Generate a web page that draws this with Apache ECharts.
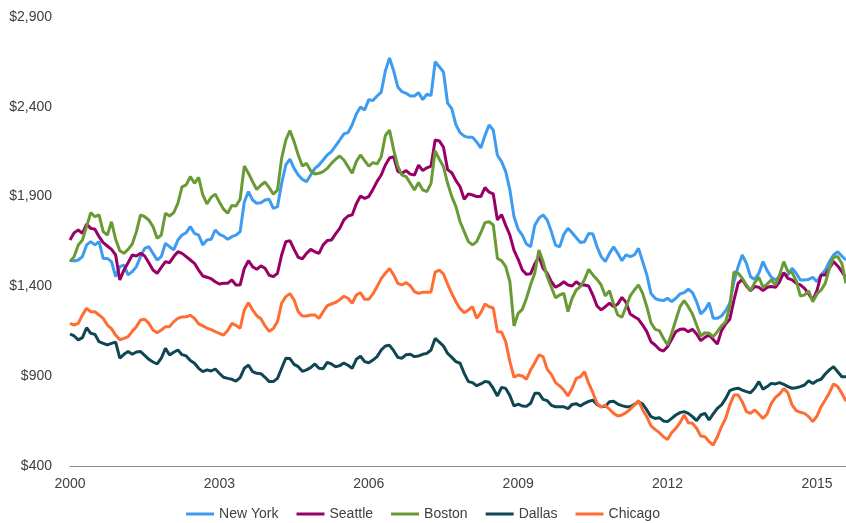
<!DOCTYPE html>
<html>
<head>
<meta charset="utf-8">
<script src="https://cdn.jsdelivr.net/npm/echarts@6/dist/echarts.min.js"></script>
<style>
html,body{margin:0;padding:0;background:#fff;}
#chart{width:846px;height:523px;}
</style>
</head>
<body>
<div id="chart"></div>
<script>
// Monthly categories Jan 2000 .. Aug 2015 (188 months)
const startYear = 2000;
const monthCount = 188;
const months = [];
for (let i = 0; i < monthCount; i++) {
  const y = startYear + Math.floor(i / 12);
  const m = (i % 12) + 1;
  months.push(y + '-' + (m < 10 ? '0' + m : m));
}
const yearTicks = ['2000', '2003', '2006', '2009', '2012', '2015'];
const seriesNames = ['New York', 'Seattle', 'Boston', 'Dallas', 'Chicago'];

const newYork = [
1547,1541,1547,1566,1631,1649,1631,1649,1556,1556,
1538,1454,1510,1519,1464,1482,1510,1566,1612,1621,
1584,1547,1566,1640,1621,1603,1658,1686,1699,1733,
1695,1686,1631,1658,1662,1714,1690,1680,1662,1677,
1686,1705,1870,1928,1881,1863,1866,1881,1885,1835,
1844,1974,2076,2108,2057,2020,1996,1983,2020,2057,
2076,2104,2132,2150,2182,2215,2249,2256,2300,2360,
2399,2382,2440,2435,2460,2482,2600,2672,2600,2510,
2484,2475,2460,2460,2479,2440,2470,2462,2651,2623,
2594,2420,2390,2300,2256,2237,2230,2230,2204,2171,
2240,2299,2270,2130,2095,2039,1937,1788,1718,1686,
1636,1621,1740,1780,1798,1770,1705,1630,1620,1690,
1723,1699,1671,1644,1649,1695,1692,1621,1566,1538,
1584,1621,1584,1543,1575,1566,1575,1612,1538,1464,
1361,1334,1324,1321,1334,1315,1334,1358,1365,1384,
1365,1315,1246,1269,1309,1222,1222,1235,1265,1306,
1426,1510,1575,1528,1454,1439,1473,1538,1488,1451,
1436,1454,1469,1464,1501,1473,1436,1436,1439,1451,
1426,1464,1491,1538,1575,1593,1569,1547];

const seattle = [
1658,1699,1714,1695,1747,1723,1718,1677,1644,1625,
1606,1575,1436,1491,1532,1575,1569,1584,1569,1532,
1491,1473,1506,1538,1532,1566,1593,1584,1566,1547,
1528,1491,1458,1451,1443,1426,1413,1417,1417,1436,
1408,1408,1500,1543,1510,1495,1514,1501,1462,1454,
1473,1575,1649,1655,1606,1562,1554,1584,1606,1593,
1584,1631,1655,1658,1692,1723,1770,1792,1798,1860,
1903,1890,1900,1940,1985,2020,2076,2115,2122,2040,
2030,2045,2025,2020,2075,2045,2060,2070,2215,2210,
2175,2050,2033,1989,1955,1885,1915,1909,1900,1900,
1950,1925,1915,1770,1800,1740,1686,1600,1551,1491,
1467,1470,1525,1566,1501,1473,1426,1395,1408,1426,
1408,1402,1426,1408,1408,1402,1352,1291,1269,1287,
1306,1287,1302,1339,1311,1246,1231,1217,1185,1148,
1092,1074,1050,1040,1064,1105,1148,1161,1163,1148,
1161,1135,1098,1116,1129,1105,1079,1154,1191,1217,
1324,1417,1439,1402,1376,1399,1395,1376,1395,1399,
1395,1426,1477,1445,1436,1417,1408,1389,1358,1324,
1376,1464,1464,1501,1538,1514,1482,1445];

const boston = [
1538,1566,1631,1658,1733,1811,1788,1798,1705,1686,
1760,1662,1599,1584,1606,1636,1705,1798,1788,1770,
1733,1668,1686,1807,1792,1811,1863,1954,1965,2011,
1974,2007,1909,1859,1896,1914,1870,1830,1807,1851,
1848,1885,2070,2030,1983,1940,1963,1981,1950,1913,
1937,2113,2215,2268,2206,2132,2070,2085,2044,2026,
2030,2039,2057,2085,2108,2126,2104,2067,2030,2095,
2132,2100,2070,2089,2082,2122,2240,2270,2160,2070,
2020,2011,1974,1937,1978,1937,1928,1974,2155,2108,
2067,1974,1900,1844,1760,1705,1649,1631,1649,1699,
1755,1760,1742,1556,1543,1510,1426,1180,1250,1272,
1334,1410,1473,1603,1538,1454,1395,1337,1352,1361,
1260,1334,1380,1399,1439,1495,1464,1439,1408,1347,
1376,1302,1241,1228,1287,1347,1380,1408,1361,1287,
1198,1161,1154,1111,1074,1139,1213,1287,1321,1287,
1246,1185,1124,1142,1139,1120,1148,1180,1202,1287,
1480,1473,1445,1408,1376,1421,1451,1395,1413,1436,
1408,1464,1538,1482,1477,1432,1347,1352,1376,1315,
1358,1380,1417,1501,1562,1566,1528,1417];

const dallas = [
1135,1124,1102,1115,1170,1139,1133,1092,1083,1074,
1083,1090,1000,1022,1037,1022,1035,1037,1016,994,
979,968,1000,1055,1018,1033,1046,1020,1013,987,
972,944,925,935,929,940,916,894,888,883,
873,892,944,962,925,916,914,894,870,870,
888,944,1000,998,966,953,927,935,948,968,
944,942,977,968,953,959,973,961,944,994,
1011,981,975,990,1009,1046,1068,1072,1042,1005,
1000,1020,1022,1009,1013,1022,1027,1046,1110,1090,
1068,1027,1005,981,972,916,870,864,847,857,
871,866,832,790,838,832,792,734,745,734,
732,749,805,805,771,764,738,730,730,730,
719,743,747,734,749,760,766,743,730,732,
758,760,745,736,730,730,743,758,745,712,
675,665,669,651,647,665,684,697,703,693,
675,653,684,693,656,690,721,740,775,820,
829,833,823,814,808,833,870,827,842,860,
857,864,855,842,833,836,842,851,875,860,
875,883,912,935,953,925,897,897];

const chicago = [
1194,1185,1194,1241,1278,1259,1259,1241,1222,1185,
1165,1129,1103,1111,1120,1150,1176,1213,1217,1194,
1157,1142,1157,1176,1176,1204,1222,1230,1231,1239,
1222,1191,1180,1168,1159,1148,1139,1129,1154,1194,
1183,1167,1269,1309,1269,1237,1220,1180,1150,1165,
1204,1306,1343,1360,1324,1259,1235,1235,1241,1241,
1222,1259,1293,1302,1311,1326,1345,1334,1306,1352,
1365,1328,1328,1358,1399,1443,1473,1500,1464,1417,
1408,1421,1404,1371,1361,1367,1367,1369,1480,1491,
1469,1413,1361,1315,1276,1254,1269,1287,1222,1254,
1302,1287,1280,1148,1146,1092,981,894,907,901,
883,935,975,1018,1009,938,910,864,846,823,
790,833,888,897,925,860,808,749,730,738,
716,693,678,684,697,716,740,764,712,675,
623,604,586,563,548,586,610,641,684,641,
638,610,567,563,536,517,563,619,665,740,
795,795,758,703,693,712,690,665,690,749,
782,801,831,808,740,708,699,693,675,647,
678,730,768,808,857,842,805,760];

const colors = ['#3D9BF0', '#990066', '#6A9A35', '#0E4752', '#FF6D35'];
const dataSets = [newYork, seattle, boston, dallas, chicago];

const chart = echarts.init(document.getElementById('chart'), null, {renderer: 'canvas'});
const font = 'Liberation Sans, Arial, sans-serif';

chart.setOption({
  animation: false,
  backgroundColor: '#ffffff',
  color: colors,
  grid: {left: 70, right: 0, top: 17, bottom: 57, containLabel: false},
  legend: {
    bottom: 2,
    padding: 0,
    left: 'center',
    data: seriesNames,
    icon: 'rect',
    itemWidth: 28,
    itemHeight: 3,
    itemGap: 18,
    textStyle: {fontFamily: font, fontSize: 14, color: '#404040'}
  },
  xAxis: {
    type: 'category',
    data: months,
    boundaryGap: false,
    axisLine: {show: true, lineStyle: {color: '#8C8C8C', width: 1}},
    axisTick: {show: false},
    splitLine: {show: false},
    axisLabel: {
      margin: 11,
      fontFamily: font,
      fontSize: 14,
      color: '#404040',
      interval: function (idx) { return yearTicks.indexOf(months[idx].slice(0, 4)) >= 0 && months[idx].slice(5) === '01'; },
      formatter: function (v) { return v.slice(0, 4); }
    }
  },
  yAxis: {
    type: 'value',
    min: 400,
    max: 2900,
    interval: 500,
    axisLine: {show: false},
    axisTick: {show: false},
    splitLine: {show: false},
    axisLabel: {
      margin: 18,
      fontFamily: font,
      fontSize: 14,
      color: '#404040',
      formatter: function (v) { return '$' + v.toLocaleString('en-US'); }
    }
  },
  series: seriesNames.map(function (name, i) {
    return {
      name: name,
      type: 'line',
      data: dataSets[i],
      symbol: 'none',
      showSymbol: false,
      lineStyle: {width: 3, color: colors[i]},
      itemStyle: {color: colors[i]}
    };
  })
});
</script>
</body>
</html>
